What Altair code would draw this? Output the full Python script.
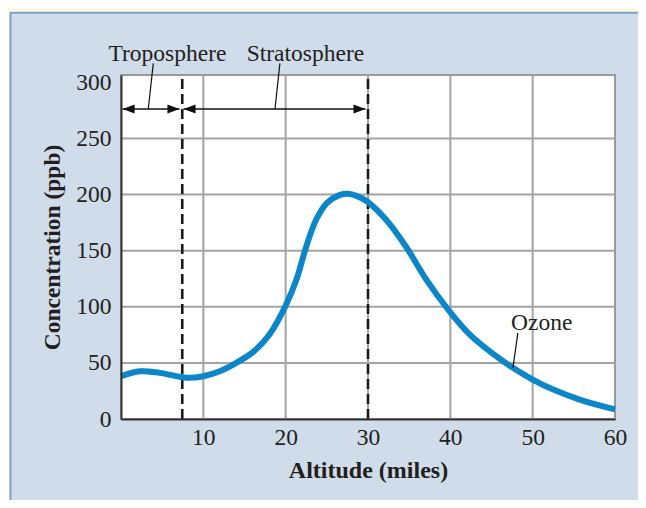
import altair as alt
import pandas as pd

# ---- data ----
altitude = [0.0, 2.3, 4.7, 8.0, 10.0, 12.0, 14.0, 16.1, 18.1, 20.0, 21.3, 22.5, 23.7, 25.0,
            26.6, 27.6, 28.6, 29.9, 32.2, 34.6, 37.1, 39.9, 42.4, 45.2, 47.6, 50.0, 52.5, 55.7, 60.0]
ozone = [38.1, 42.5, 41.1, 36.7, 38.1, 42.5, 50.0, 60.0, 76.0, 101.0, 124.0, 153.7, 177.5, 192.3,
         199.7, 200.6, 198.8, 193.8, 177.5, 153.7, 124.0, 96.0, 75.0, 58.0, 45.6, 35.1, 26.2, 17.3, 8.5]

x_ticks = [10, 20, 30, 40, 50, 60]
y_ticks = [0, 50, 100, 150, 200, 250, 300]
x_grid = [10, 20, 30, 40, 50]
y_grid = [50, 100, 150, 200, 250]
x_domain = [0, 60]
y_domain = [0, 306.5]

boundaries = [7.44, 30.0]            # tropopause, stratopause
arrow_y = 276.2
arrow_start = [0.2, 7.6]
arrow_end = [7.1, 29.7]

labels = ["Troposphere", "Stratosphere", "Ozone"]
label_x = [5.64, 22.4, 51.1]
label_y = [319.2, 319.2, 79.0]
leader_x = [3.92, 19.3, 48.2]
leader_y = [316.9, 316.9, 76.7]
leader_x2 = [3.31, 18.7, 47.6]
leader_y2 = [276.0, 276.0, 45.5]

# ---- styling ----
FONT = "Liberation Serif"
TXT = "#231f20"
W, H = 494, 344

xs = alt.Scale(domain=x_domain, nice=False, zero=False)
ys = alt.Scale(domain=y_domain, nice=False, zero=False)

xaxis = alt.Axis(title="Altitude (miles)", values=x_ticks, grid=False, tickSize=0,
                 domainColor="#333333", domainWidth=2, labelFont=FONT, labelFontSize=23.5,
                 labelColor=TXT, labelPadding=6, labelFlush=False, titleFont=FONT,
                 titleFontSize=24, titleFontWeight="bold", titleColor=TXT, titlePadding=10,
                 zindex=1)
yaxis = alt.Axis(title="Concentration (ppb)", values=y_ticks, grid=False, tickSize=0,
                 domainColor="#333333", domainWidth=2, labelFont=FONT, labelFontSize=23.5,
                 labelColor=TXT, labelPadding=10, labelFlush=False, titleFont=FONT,
                 titleFontSize=23.5, titleFontWeight="bold", titleColor=TXT, titlePadding=11,
                 zindex=1)


def X(f):
    return alt.X(f, type="quantitative", scale=xs, axis=xaxis)


def Y(f):
    return alt.Y(f, type="quantitative", scale=ys, axis=yaxis)


one = pd.DataFrame({"a": [0]})

panel = alt.Chart(one).mark_rect(fill="#d0dce9", stroke="#7ba2d0", strokeWidth=2).encode(
    x=alt.value(-110.5), x2=alt.value(700), y=alt.value(-62.2), y2=alt.value(600))

frame_df = pd.DataFrame({"x0": [x_domain[0]], "x1": [x_domain[1]],
                         "y0": [y_domain[0]], "y1": [y_domain[1]]})
frame = alt.Chart(frame_df).mark_rect(fill="white", stroke="#9a9a9a", strokeWidth=2).encode(
    x=X("x0"), x2="x1", y=Y("y0"), y2="y1")

vgrid = alt.Chart(pd.DataFrame({"g": x_grid})).mark_rule(color="#a3a3a3", strokeWidth=2).encode(
    x=X("g"))
hgrid = alt.Chart(pd.DataFrame({"g": y_grid})).mark_rule(color="#a3a3a3", strokeWidth=2).encode(
    y=Y("g"))

bdf = pd.DataFrame({"b": boundaries, "y0": [y_domain[0]] * 2, "y1": [y_domain[1]] * 2})
dashed = alt.Chart(bdf).mark_rule(color="#1a1a1a", strokeWidth=2.6, strokeDash=[10, 5]).encode(
    x=X("b"), y=Y("y0"), y2="y1")

curve_df = pd.DataFrame({"alt": altitude, "o3": ozone})
curve = alt.Chart(curve_df).mark_line(color="#0a86c9", strokeWidth=6, interpolate="catmull-rom",
                                      strokeCap="butt").encode(x=X("alt"), y=Y("o3"))

adf = pd.DataFrame({"s": arrow_start, "e": arrow_end, "y": [arrow_y] * 2})
arrows = alt.Chart(adf).mark_rule(color="#111111", strokeWidth=1.6).encode(
    x=X("s"), x2="e", y=Y("y"))
head_l = alt.Chart(adf).mark_point(shape="M0,0L2,-0.75L2,0.75Z", filled=True, size=144,
                                   color="#111111", opacity=1).encode(x=X("s"), y=Y("y"))
head_r = alt.Chart(adf).mark_point(shape="M0,0L-2,-0.75L-2,0.75Z", filled=True, size=144,
                                   color="#111111", opacity=1).encode(x=X("e"), y=Y("y"))

ldf = pd.DataFrame({"label": labels, "lx": label_x, "ly": label_y,
                    "x1": leader_x, "y1": leader_y, "x2": leader_x2, "y2": leader_y2})
leaders = alt.Chart(ldf).mark_rule(color="#111111", strokeWidth=1.2).encode(
    x=X("x1"), y=Y("y1"), x2="x2", y2="y2")
texts = alt.Chart(ldf).mark_text(font=FONT, fontSize=23.5, color=TXT, align="center",
                                 baseline="alphabetic").encode(
    x=X("lx"), y=Y("ly"), text="label:N")

chart = alt.layer(panel, frame, vgrid, hgrid, dashed, curve, arrows, head_l, head_r,
                  leaders, texts).properties(
    width=W, height=H,
    padding={"left": 113, "top": 67, "right": 23, "bottom": 81},
    autosize=alt.AutoSizeParams(type="none"),
    background="#fff9e3",
).configure_view(strokeWidth=0)

chart.save("out.html", embed_options={"renderer": "svg", "actions": False})
